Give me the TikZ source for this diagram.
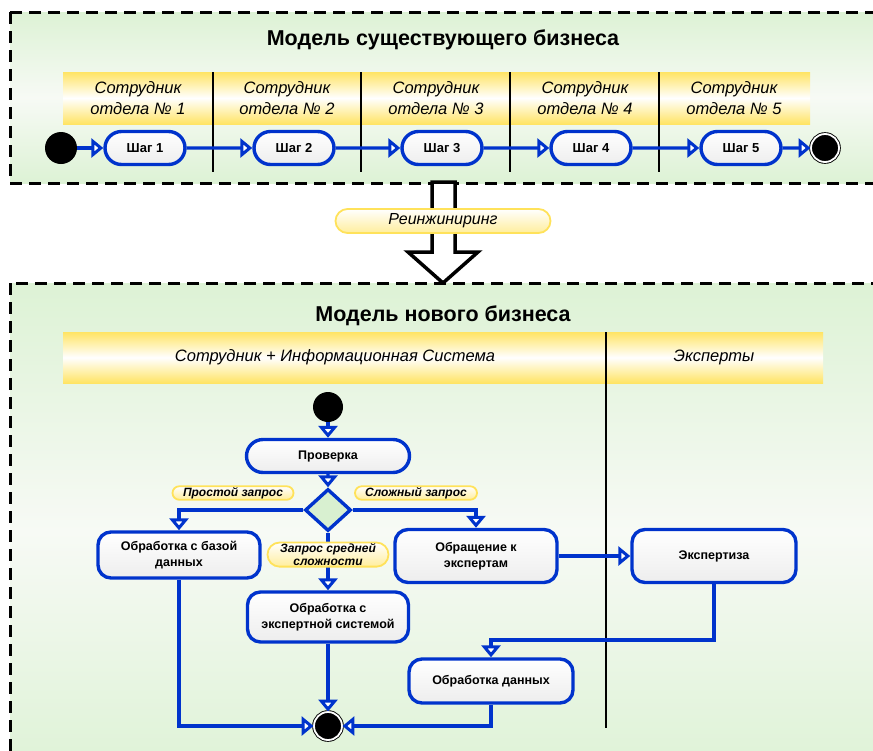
\documentclass[tikz,border=0pt]{standalone}
\usepackage{fontspec}
\setmainfont{Liberation Sans}
\usetikzlibrary{arrows.meta,positioning,shapes.geometric,shapes.misc}
\definecolor{umlblue}{RGB}{0,51,204}
\definecolor{bggreen}{RGB}{221,242,213}
\definecolor{bgwhite}{RGB}{247,250,245}
\definecolor{hdryellow}{RGB}{255,228,100}
\definecolor{lblyellow}{RGB}{255,226,90}
\definecolor{decgreen}{RGB}{216,240,208}

\begin{document}
\begin{tikzpicture}[x=1pt, y=-1pt, font=\fontsize{12}{14}\selectfont,
    >={Triangle[width=19pt, length=12pt, fill=white]},
    flow/.style={->, line width=3.4pt, draw=umlblue},
    act/.style={draw=umlblue, line width=3.4pt, rounded corners=13pt, top color=white, bottom color=black!7,
      align=center, font=\fontsize{12.5}{16}\selectfont\bfseries, inner sep=0pt},
    stepbox/.style={act, sharp corners, rounded rectangle, minimum width=80pt, minimum height=33pt,
      font=\fontsize{13}{15}\selectfont\bfseries},
    guard/.style={rounded rectangle, draw=lblyellow, line width=1.8pt, top color=white, bottom color=lblyellow!60,
      font=\fontsize{12}{13}\selectfont\bfseries\itshape, align=center, inner sep=1pt},
    lanehead/.style={top color=hdryellow, bottom color=hdryellow, middle color=white},
    lanetext/.style={font=\fontsize{16.5}{21}\selectfont\itshape, align=center},
    zone/.style={draw=black, line width=3pt, dash pattern=on 12pt off 7pt,
      top color=bggreen, bottom color=bggreen, middle color=bgwhite},
    startdot/.style={circle, fill=black, minimum size=32pt, inner sep=0pt},
    enddot/.style={circle, fill=black, draw=black, line width=0.9pt, double=white, double distance=1.8pt,
      minimum size=28pt, inner sep=0pt},
    title/.style={font=\fontsize{21.5}{25}\selectfont\bfseries}]

    \useasboundingbox (0,0) rectangle (873,750);
    \clip (0,0) rectangle (873,750);

    % Существующий бизнес
    \draw[zone] (10,12) rectangle (890,183);
    \node[title] (oldtitle) at (443,40) {Модель существующего бизнеса};
    \fill[lanehead] (63,72) rectangle (810,124);
    \draw[line width=2pt] (213,72) -- (213,172);
    \draw[line width=2pt] (361,72) -- (361,172);
    \draw[line width=2pt] (510,72) -- (510,172);
    \draw[line width=2pt] (659,72) -- (659,172);
    \node[lanetext] (dept1) at (138,98) {Сотрудник\\отдела № 1};
    \node[lanetext] (dept2) at (287,98) {Сотрудник\\отдела № 2};
    \node[lanetext] (dept3) at (436,98) {Сотрудник\\отдела № 3};
    \node[lanetext] (dept4) at (585,98) {Сотрудник\\отдела № 4};
    \node[lanetext] (dept5) at (734,98) {Сотрудник\\отдела № 5};

    % Шаги
    \node[startdot] (start1) at (61,148) {};
    \node[stepbox] (step1) at (145,148) {Шаг 1};
    \node[stepbox] (step2) at (294,148) {Шаг 2};
    \node[stepbox] (step3) at (442,148) {Шаг 3};
    \node[stepbox] (step4) at (591,148) {Шаг 4};
    \node[stepbox] (step5) at (741,148) {Шаг 5};
    \node[enddot] (end1) at (825,148) {};
    \draw[flow] (start1) -- (step1);
    \draw[flow] (step1) -- (step2);
    \draw[flow] (step2) -- (step3);
    \draw[flow] (step3) -- (step4);
    \draw[flow] (step4) -- (step5);
    \draw[flow] (step5) -- (end1);

    % Реинжиниринг
    \draw[line width=3.5pt, fill=white] (432,182) -- (455,182) -- (455,252) -- (478,252) -- (443,283)
      -- (408,252) -- (432,252) -- cycle;
    \node[guard, minimum width=217pt, minimum height=24pt, font=\fontsize{16}{18}\selectfont\itshape]
      (reeng) at (443,221) {Реинжиниринг};

    % Новый бизнес
    \draw[zone] (10,283) rectangle (890,780);
    \node[title] (newtitle) at (443,316) {Модель нового бизнеса};
    \fill[lanehead] (63,332) rectangle (823,383);
    \draw[line width=2pt] (606,332) -- (606,728);
    \node[lanetext] (staff) at (335,357) {Сотрудник + Информационная Система};
    \node[lanetext] (experts) at (714,357) {Эксперты};

    \node[startdot, minimum size=30pt] (start2) at (328,407) {};
    \node[stepbox, minimum width=163pt, font=\fontsize{12.5}{15}\selectfont\bfseries] (check) at (328,456) {Проверка};
    \node[diamond, draw=umlblue, line width=3.4pt, fill=decgreen, minimum width=46pt, minimum height=42pt,
      inner sep=0pt] (choice) at (328,510) {};
    \node[act, minimum width=162pt, minimum height=46pt] (dbwork) at (179,555) {Обработка с базой\\данных};
    \node[act, minimum width=162pt, minimum height=53pt] (askexp) at (476,556) {Обращение к\\экспертам};
    \node[act, minimum width=161pt, minimum height=50pt] (eswork) at (328,617) {Обработка с\\экспертной системой};
    \node[act, minimum width=164pt, minimum height=53pt] (expert) at (714,556) {Экспертиза};
    \node[act, minimum width=164pt, minimum height=44pt] (datawork) at (491,681) {Обработка данных};
    \node[enddot] (end2) at (328,726) {};
    \coordinate (bend) at (600,640);

    % Переходы
    \draw[flow] (start2) -- (check);
    \draw[flow] (check) -- (choice);
    \draw[flow] (choice.west) -| (dbwork.north);
    \draw[flow] (choice.east) -| (askexp.north);
    \draw[flow] (choice.south) -- node[guard, pos=0.38, minimum width=123pt] (medium)
      {Запрос средней\\сложности} (eswork.north);
    \node[guard, minimum width=123pt] (simple) at (233,493) {Простой запрос};
    \node[guard, minimum width=124pt] (complex) at (416,493) {Сложный запрос};
    \draw[flow] (askexp) -- (expert);
    \draw[flow] (expert.south) |- (bend) -| (datawork.north);
    \draw[flow] (eswork) -- (end2);
    \draw[flow] (dbwork.south) |- (end2.west);
    \draw[flow] (datawork.south) |- (end2.east);
\end{tikzpicture}
\end{document}
